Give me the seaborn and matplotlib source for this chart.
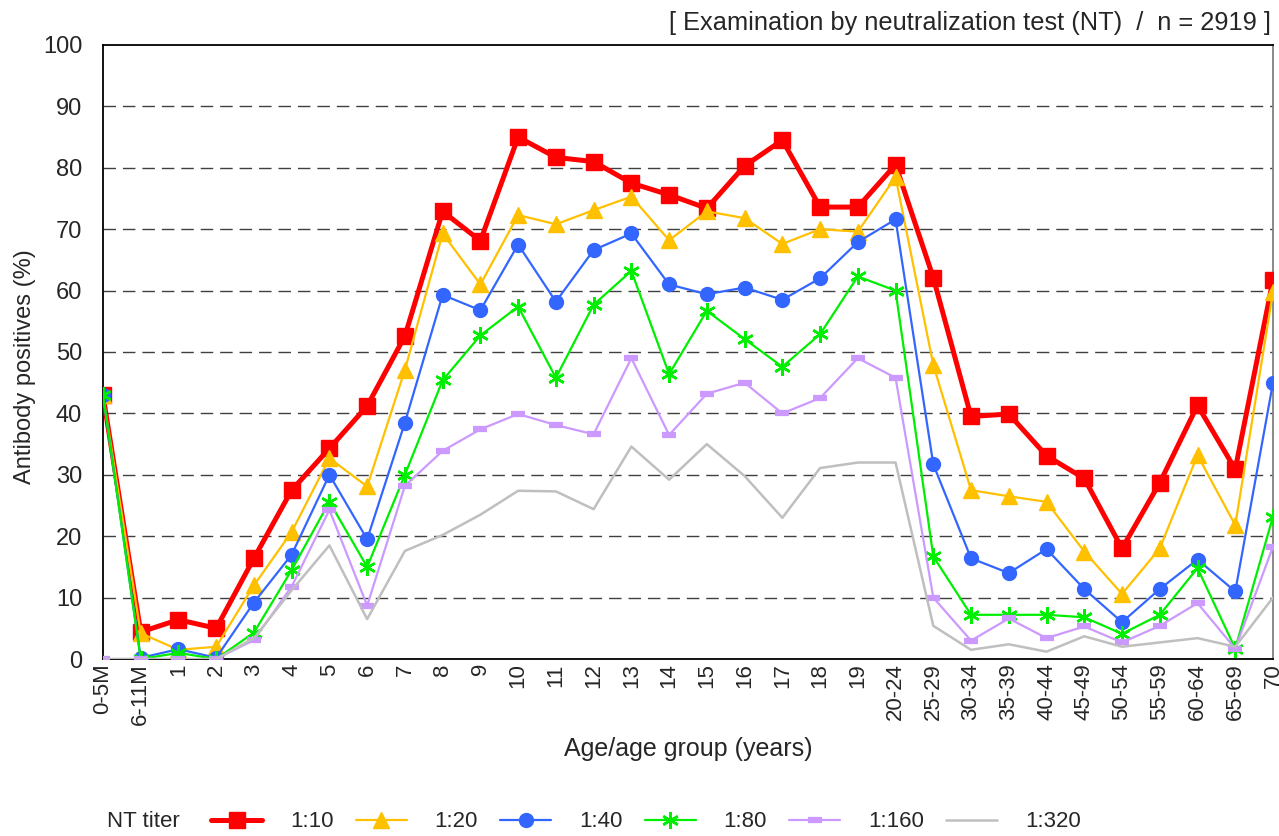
import numpy as np
import pandas as pd
import matplotlib
matplotlib.use("Agg")
import matplotlib.pyplot as plt
import seaborn as sns

# Age groups (x axis)
ages = ["0-5M", "6-11M", "1", "2", "3", "4", "5", "6", "7", "8", "9", "10",
        "11", "12", "13", "14", "15", "16", "17", "18", "19", "20-24",
        "25-29", "30-34", "35-39", "40-44", "45-49", "50-54", "55-59",
        "60-64", "65-69", "70"]

# Antibody positives (%) per NT titer
t10 = [43.0, 4.4, 6.4, 5.0, 16.4, 27.5, 34.3, 41.2, 52.6, 72.9, 68.1, 85.0,
       81.7, 81.0, 77.5, 75.6, 73.4, 80.3, 84.5, 73.6, 73.6, 80.5,
       62.1, 39.5, 39.9, 33.1, 29.4, 18.0, 28.7, 41.3, 30.9, 61.7]
t20 = [43.0, 4.2, 1.5, 2.0, 12.0, 20.7, 32.7, 28.1, 47.1, 69.3, 61.0, 72.3,
       70.8, 73.1, 75.3, 68.2, 72.9, 71.8, 67.6, 70.0, 69.6, 78.5,
       47.9, 27.5, 26.5, 25.6, 17.5, 10.6, 18.0, 33.2, 21.8, 59.8]
t40 = [43.0, 0.2, 1.6, 0.2, 9.2, 17.0, 30.0, 19.5, 38.5, 59.3, 56.8, 67.5,
       58.2, 66.6, 69.3, 61.0, 59.4, 60.5, 58.5, 62.0, 67.9, 71.6,
       31.7, 16.4, 14.0, 17.9, 11.4, 6.0, 11.4, 16.2, 11.0, 45.0]
t80 = [43.0, 0.0, 1.0, 0.0, 4.3, 14.5, 25.6, 15.0, 30.0, 45.4, 52.7, 57.4,
       45.8, 57.7, 63.2, 46.4, 56.7, 52.1, 47.6, 52.9, 62.3, 60.0,
       16.7, 7.2, 7.2, 7.2, 6.8, 4.1, 7.2, 14.8, 1.7, 23.2]
t160 = [0.0, 0.0, 0.0, 0.0, 3.1, 11.8, 24.3, 8.7, 28.2, 33.9, 37.4, 39.9,
        38.1, 36.6, 49.0, 36.5, 43.2, 45.0, 40.0, 42.5, 49.0, 45.8,
        10.0, 3.0, 6.6, 3.4, 5.3, 2.7, 5.4, 9.1, 1.7, 18.3]
t320 = [0.0, 0.0, 0.0, 0.0, 3.4, 11.2, 18.5, 6.5, 17.6, 20.2, 23.5, 27.4,
        27.3, 24.4, 34.6, 29.2, 35.0, 29.8, 23.0, 31.1, 32.0, 32.0,
        5.4, 1.5, 2.4, 1.2, 3.7, 2.0, 2.7, 3.4, 2.0, 10.0]

titers = ["1:10", "1:20", "1:40", "1:80", "1:160", "1:320"]
values = [t10, t20, t40, t80, t160, t320]

# style for each titer
styles = {
    "1:10":  dict(color="#FF0000", marker="s", markersize=11, linewidth=3.6, mew=1),
    "1:20":  dict(color="#FFC000", marker="^", markersize=11, linewidth=1.6, mew=1),
    "1:40":  dict(color="#3366FF", marker="o", markersize=10, linewidth=1.6, mew=1),
    "1:80":  dict(color="#00EE00", marker=(6, 2, 0), markersize=12, linewidth=1.6, mew=1.8),
    "1:160": dict(color="#CC99FF", marker="_", markersize=10, linewidth=1.6, mew=4.5),
    "1:320": dict(color="#BFBFBF", marker=None, markersize=0, linewidth=1.8, mew=0),
}

df = pd.DataFrame({"age": ages, **dict(zip(titers, values))})
df["pos"] = np.arange(len(ages))

sns.set_style("white")
plt.rcParams["font.family"] = ["Liberation Sans", "DejaVu Sans"]

fig = plt.figure(figsize=(12.79, 8.36), dpi=100)
ax = fig.add_axes([0.0805, 0.2117, 0.9148, 0.7345])

for i, t in enumerate(titers):
    st = styles[t]
    sns.lineplot(data=df, x="pos", y=t, ax=ax, color=st["color"],
                 marker=st["marker"], markersize=st["markersize"],
                 linewidth=st["linewidth"], markeredgecolor=st["color"],
                 markeredgewidth=st["mew"], label=t, zorder=10 + i * 0.1)

ax.set_xlim(0, len(ages) - 1)
ax.set_ylim(0, 100)
ax.set_yticks(np.arange(0, 101, 10))
ax.set_xticks(df["pos"])
ax.set_xticklabels(ages, rotation=90, fontsize=16)
ax.tick_params(axis="y", labelsize=17, length=0, pad=15)
ax.tick_params(axis="x", length=0, pad=3)
for y in range(10, 100, 10):
    ax.axhline(y, color="#404040", linestyle=(0, (9, 5)), linewidth=1.0, zorder=1)

for s in ["left", "bottom", "top"]:
    ax.spines[s].set_color("black")
    ax.spines[s].set_linewidth(1.3)
ax.spines["right"].set_color("#808080")
ax.spines["right"].set_linewidth(1.3)

ax.set_xlabel("Age/age group (years)", fontsize=18, labelpad=9)
ax.set_ylabel("Antibody positives (%)", fontsize=17)
ax.yaxis.set_label_coords(-0.057, 0.476)

fig.text(0.994, 0.973, "[ Examination by neutralization test (NT)  /  n = 2919 ]",
         ha="right", va="center", fontsize=18.3)

handles, labels = ax.get_legend_handles_labels()
ax.get_legend().remove()
fig.text(0.084, 0.017, "NT titer", ha="left", va="center", fontsize=16)
fig.legend(handles, labels, loc="center left", bbox_to_anchor=(0.158, 0.017),
           ncol=6, frameon=False, fontsize=16, handlelength=2.3,
           handletextpad=1.25, columnspacing=1.0, borderaxespad=0)

fig.savefig("out.png", dpi=100)
